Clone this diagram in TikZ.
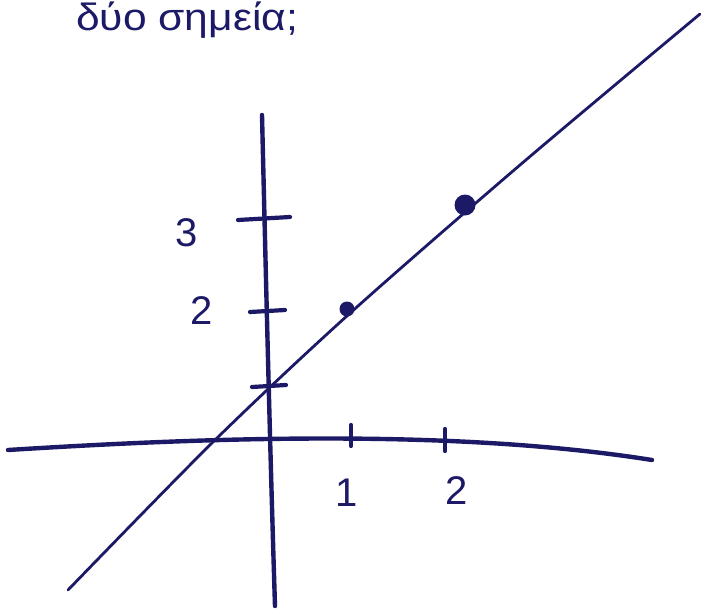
\documentclass[tikz,border=0pt]{standalone}
\usepackage{fontspec}
\setmainfont{Liberation Sans}
\begin{document}
\begin{tikzpicture}[x=1pt,y=-1pt,
  ink/.style={draw=penblue,line cap=round,line join=round},
  axis/.style={ink,line width=4.4pt},
  tick/.style={ink,line width=4.2pt},
  graphline/.style={ink,line width=2.8pt},
  lbl/.style={text=penblue,font=\fontsize{40}{40}\selectfont,inner sep=0pt}]
\definecolor{penblue}{HTML}{1C1A66}
\useasboundingbox (0,0) rectangle (701,610);
% heading
\node[text=penblue,anchor=north west,inner sep=0pt,xscale=1.12,
  font=\fontsize{38}{38}\selectfont] (title) at (76,2) {δύο σημεία;};
% axes
\draw[axis] (262,115) .. controls (266,280) and (270,450) .. (275,606);
\draw[axis] (8,450) .. controls (200,438) and (450,428) .. (652,460);
% y ticks
\draw[tick] (238,220) -- (290,217);
\draw[tick] (250,312) -- (285,310);
\draw[tick] (252,387) -- (286,385);
% x ticks
\draw[tick] (351,425) -- (351,446);
\draw[tick] (445,429) -- (445,451);
% labels
\node[lbl] (y3) at (187,233) {3};
\node[lbl] (y2) at (202,311) {2};
\node[lbl] (x1) at (347,493) {1};
\node[lbl] (x2) at (457,491) {2};
% fitted line
\draw[graphline] plot[smooth,tension=0.5] coordinates {(68,590) (213,442) (348,315) (520,165) (700,14)};
% data points
\coordinate (p1) at (347,309);
\coordinate (p2) at (465,205);
\fill[penblue] (p1) circle (7.5);
\fill[penblue] (p2) circle (10.5);
\end{tikzpicture}
\end{document}
